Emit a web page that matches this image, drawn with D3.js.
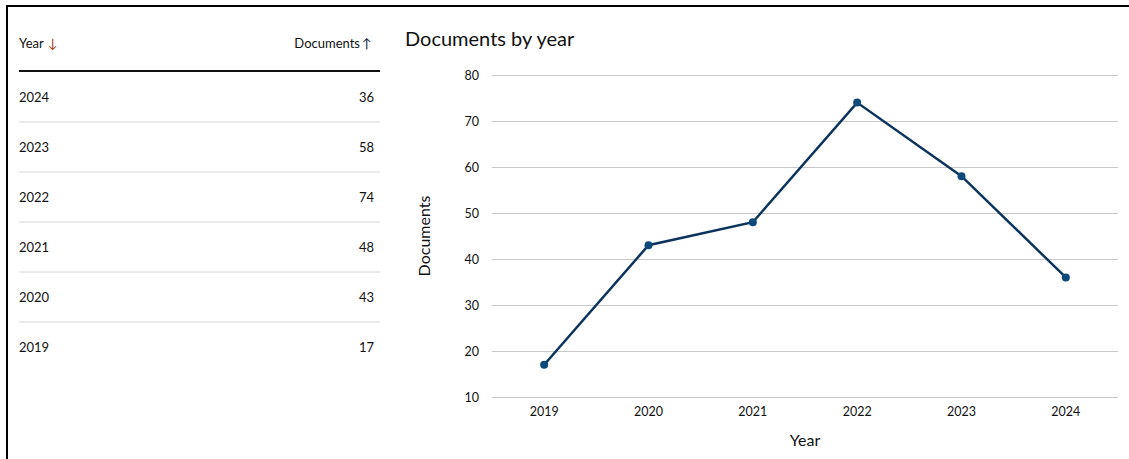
<!DOCTYPE html>
<html>
<head>
<meta charset="utf-8">
<script src="https://cdn.jsdelivr.net/npm/d3@7"></script>
<style>
  body { margin: 0; background: #fff; }
  svg { display: block; font-family: Lato, "Open Sans", sans-serif; }
</style>
</head>
<body>
<script>
// data
var years = ["2019", "2020", "2021", "2022", "2023", "2024"];
var documents = [17, 43, 48, 74, 58, 36];
var yTicks = [10, 20, 30, 40, 50, 60, 70, 80];

var data = years.map(function(y, i) { return {year: y, value: documents[i]}; });

var W = 1129, H = 459;
var svg = d3.select("body").append("svg")
    .attr("width", W)
    .attr("height", H);

// frame (top + left edges)
svg.append("line").attr("x1", 6).attr("x2", W).attr("y1", 6).attr("y2", 6)
    .attr("stroke", "#000").attr("stroke-width", 2);
svg.append("line").attr("x1", 7).attr("x2", 7).attr("y1", 5).attr("y2", H)
    .attr("stroke", "#000").attr("stroke-width", 2);

// ---- table on the left ----
var table = svg.append("g");
var tl = 19, tr = 380;

table.append("text").attr("x", tl).attr("y", 48)
    .attr("font-size", 13).attr("fill", "#111").text("Year");
table.append("text").attr("x", tl + 29).attr("y", 48)
    .attr("font-size", 13).attr("fill", "#a8401c").text("\u2193");
table.append("text").attr("x", tr - 20).attr("y", 48)
    .attr("text-anchor", "end")
    .attr("font-size", 13).attr("fill", "#111").text("Documents");
table.append("text").attr("x", tr - 18).attr("y", 48)
    .attr("font-size", 13).attr("fill", "#0b2236").text("\u2191");
table.append("line").attr("x1", tl).attr("x2", tr).attr("y1", 71).attr("y2", 71)
    .attr("stroke", "#111").attr("stroke-width", 2);

var rowY = d3.scaleBand()
    .domain(years.slice().reverse())
    .range([72, 372]);

var rows = table.selectAll(".row")
    .data(data.slice().reverse())
    .enter().append("g")
    .attr("class", "row")
    .attr("transform", function(d) { return "translate(0," + rowY(d.year) + ")"; });

rows.append("text").attr("x", tl).attr("y", 30)
    .attr("font-size", 13).attr("fill", "#111")
    .text(function(d) { return d.year; });
rows.append("text").attr("x", tr - 6).attr("y", 30)
    .attr("text-anchor", "end")
    .attr("font-size", 13).attr("fill", "#111")
    .text(function(d) { return d.value; });
rows.filter(function(d, i) { return i < data.length - 1; })
    .append("line")
    .attr("x1", tl).attr("x2", tr)
    .attr("y1", rowY.bandwidth()).attr("y2", rowY.bandwidth())
    .attr("stroke", "#d6d6d6").attr("stroke-width", 1);

// ---- line chart ----
var margin = {top: 75, left: 492, right: 11, bottom: 62};
var width = W - margin.left - margin.right,
    height = H - margin.top - margin.bottom;

svg.append("text").attr("x", 405).attr("y", 46)
    .attr("font-size", 20).attr("fill", "#111").text("Documents by year");

var g = svg.append("g")
    .attr("transform", "translate(" + margin.left + "," + margin.top + ")");

var x = d3.scaleBand().domain(years).range([0, width]);
var y = d3.scaleLinear().domain([10, 80]).range([height, 0]);

// grid + y labels
var yAxis = g.append("g")
    .call(d3.axisLeft(y).tickValues(yTicks).tickSize(-width).tickPadding(13));
yAxis.select(".domain").remove();
yAxis.selectAll(".tick line").attr("stroke", "#c8c8c8");
yAxis.selectAll(".tick text").attr("font-size", 12.5).attr("fill", "#111")
    .attr("font-family", "Lato, sans-serif");

// x labels
var xAxis = g.append("g")
    .attr("transform", "translate(0," + height + ")")
    .call(d3.axisBottom(x).tickSize(0).tickPadding(10));
xAxis.select(".domain").remove();
xAxis.selectAll(".tick text").attr("font-size", 12.5).attr("fill", "#111")
    .attr("font-family", "Lato, sans-serif");

// axis titles
g.append("text")
    .attr("x", width / 2).attr("y", height + 49)
    .attr("text-anchor", "middle")
    .attr("font-size", 16).attr("fill", "#111").text("Year");
g.append("text")
    .attr("transform", "translate(" + (-62) + "," + (height / 2) + ") rotate(-90)")
    .attr("text-anchor", "middle")
    .attr("font-size", 16).attr("fill", "#111").text("Documents");

var cx = function(d) { return x(d.year) + x.bandwidth() / 2; };

g.append("path")
    .datum(data)
    .attr("fill", "none")
    .attr("stroke", "#0c345c")
    .attr("stroke-width", 2.5)
    .attr("d", d3.line().x(cx).y(function(d) { return y(d.value); }));

g.selectAll(".dot")
    .data(data)
    .enter().append("circle")
    .attr("class", "dot")
    .attr("cx", cx)
    .attr("cy", function(d) { return y(d.value); })
    .attr("r", 4)
    .attr("fill", "#0d4a7a");
</script>
</body>
</html>
